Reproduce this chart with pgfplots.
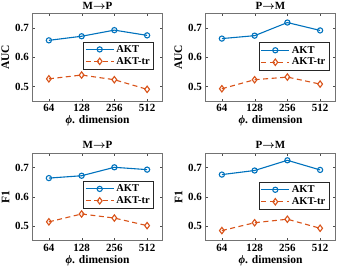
\documentclass[border=0pt]{standalone}
\usepackage{pgfplots}
\pgfplotsset{compat=1.18}
\usepgfplotslibrary{groupplots}
\usetikzlibrary{calc}
\usepackage{fontspec}
\setmainfont{Liberation Serif}
\definecolor{mblue}{rgb}{0,0.447,0.741}
\definecolor{morange}{rgb}{0.851,0.325,0.098}
\newcommand{\arr}{{\boldmath$\rightarrow$}}
\begin{document}
\begin{tikzpicture}[font=\bfseries]
\pgfplotsset{
  myax/.style={
    scale only axis, width=130pt, height=87.5pt,
    xmin=-0.5, xmax=3.47, ymin=0.45, ymax=0.75,
    xtick={0,1,2,3}, xticklabels={64,128,256,512},
    ytick={0.5,0.6,0.7},
    yticklabel style={/pgf/number format/fixed,/pgf/number format/precision=1},
    /pgf/number format/assume math mode=true,
    tick label style={font=\bfseries\fontsize{11}{12}\selectfont},
    label style={font=\bfseries\fontsize{11.5}{12}\selectfont},
    title style={font=\bfseries\fontsize{11}{12}\selectfont, yshift=-5.5pt},
    xlabel={\textit{ϕ}. dimension},
    xlabel style={yshift=3pt},
    ylabel style={yshift=-1pt},
    axis line style={black!55},
    tick style={black!70},
    major tick length=2.5pt,
    legend style={font=\bfseries\fontsize{10.5}{11}\selectfont, draw=black!85, inner sep=1.5pt, row sep=-0.5pt,
      at={(0.93,0.68)}, anchor=north east},
    legend cell align=left,
    legend image code/.code={\draw[mark repeat=2,mark phase=2,##1] plot coordinates {(0pt,0pt)(14pt,0pt)(28pt,0pt)};},
  },
  s1/.style={mblue, line width=1.1pt, mark=o, mark size=2.6pt, mark options={solid, fill=white}},
  s2/.style={morange, line width=1.1pt, dash pattern=on 5pt off 3.5pt, mark=diamond, mark size=3.2pt, mark options={solid, fill=white}},
}
\begin{groupplot}[group style={group size=2 by 2, horizontal sep=43pt, vertical sep=52pt}, myax]
\nextgroupplot[title={M\arr P}, ylabel={AUC}]
\addplot[s1] coordinates {(0,0.658) (1,0.672) (2,0.693) (3,0.675)};
\addplot[s2] coordinates {(0,0.526) (1,0.539) (2,0.523) (3,0.490)};
\legend{AKT, AKT-tr}
\nextgroupplot[title={P\arr M}, ylabel={AUC}, legend style={at={(0.95,0.67)}}]
\addplot[s1] coordinates {(0,0.664) (1,0.674) (2,0.719) (3,0.692)};
\addplot[s2] coordinates {(0,0.492) (1,0.523) (2,0.532) (3,0.508)};
\legend{AKT, AKT-tr}
\nextgroupplot[title={M\arr P}, ylabel={F1}]
\addplot[s1] coordinates {(0,0.664) (1,0.672) (2,0.701) (3,0.693)};
\addplot[s2] coordinates {(0,0.514) (1,0.541) (2,0.527) (3,0.501)};
\legend{AKT, AKT-tr}
\nextgroupplot[title={P\arr M}, ylabel={F1}, legend style={at={(0.95,0.67)}}]
\addplot[s1] coordinates {(0,0.676) (1,0.690) (2,0.725) (3,0.692)};
\addplot[s2] coordinates {(0,0.484) (1,0.511) (2,0.523) (3,0.492)};
\legend{AKT, AKT-tr}
\end{groupplot}
\pgfresetboundingbox
\path[use as bounding box] ($(group c1r1.south west)+(-32.5pt,-173pt)$) rectangle ++(337pt,274pt);
\end{tikzpicture}
\end{document}
